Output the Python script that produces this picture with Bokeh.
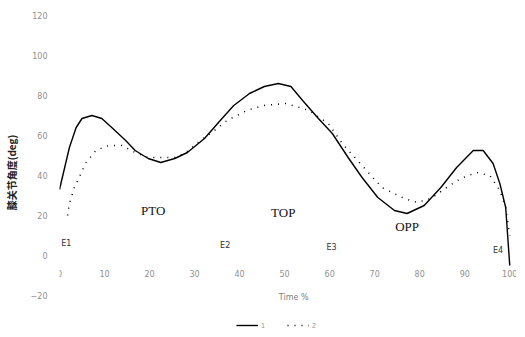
from bokeh.plotting import figure
from bokeh.models import Range1d, FixedTicker, Legend, LegendItem, ColumnDataSource
from bokeh.core.properties import value
from bokeh.embed import file_html
from bokeh.resources import INLINE

# ---- data ----
solid_x = [0, 2.2, 3.7, 5.0, 7.2, 9.4, 11.6, 14.7, 16.8, 19.7, 22.5, 25.6, 28.4, 32.2, 35.7,
           38.7, 42.2, 45.5, 48.6, 51.4, 54.0, 57.5, 60.6, 64.1, 67.2, 70.7, 74.4, 77.2, 81.0,
           84.7, 88.2, 91.9, 94.1, 96.3, 97.8, 99.1, 100.0]
solid_y = [33, 54, 64, 68.5, 70, 68.5, 64, 57.5, 52.5, 48.5, 46.5, 48.5, 51.5, 58.5, 67.5,
           75, 81, 84.5, 86, 84.5, 77.5, 68.5, 61, 49, 39, 29, 22.5, 21, 25,
           34, 44, 52.5, 52.5, 46, 36, 24, -5]

dot_x = [1.8, 2.2, 3.3, 5.9, 8.1, 10.9, 13.8, 16.8, 19.7, 22.5, 25.6, 27.8, 31.3, 34.4, 37.2,
         41.6, 45.3, 50.3, 55.4, 59.7, 62.8, 65.6, 67.8, 71.6, 76.6, 79.4, 82.5, 86.0, 89.1,
         92.6, 95.6, 97.8, 99.1, 100.0]
dot_y = [20, 26, 34, 46.5, 52.5, 55, 55, 51.5, 49, 49, 49, 51, 57.5, 62.5, 67.5,
         72.5, 75, 76, 72.5, 66, 56, 49, 43.5, 34, 28.5, 26.5, 28.5, 34, 38.5,
         41.5, 40, 32.5, 24, 10]

x_ticks = [0, 10, 20, 30, 40, 50, 60, 70, 80, 90, 100]
x_tick_labels = ["0", "10", "20", "30", "40", "50", "60", "70", "80", "90", "100"]
y_ticks = [-20, 0, 20, 40, 60, 80, 100, 120]
x_title = "Time %"
y_title = "膝关节角度(deg)"

phase_labels = ["PTO", "TOP", "OPP"]
phase_x = [20.8, 49.7, 77.2]
phase_y = [22.5, 21.5, 14.5]

event_labels = ["E1", "E2", "E3", "E4"]
event_x = [1.5, 36.8, 60.4, 97.4]
event_y = [6, 5, 4, 2.5]

legend_labels = ["1", "2"]

# ---- figure ----
p = figure(width=516, height=329, output_backend="svg", toolbar_location=None,
           x_range=Range1d(0, 101.5), y_range=Range1d(-37, 120),
           min_border_left=52, min_border_right=0, min_border_top=15, min_border_bottom=0)
p.outline_line_color = None
p.grid.grid_line_color = None
p.background_fill_color = "white"
p.border_fill_color = "white"
p.xaxis.visible = False

# y axis
p.yaxis.ticker = FixedTicker(ticks=y_ticks)
p.yaxis.axis_line_color = None
p.yaxis.major_tick_line_color = None
p.yaxis.minor_tick_line_color = None
p.yaxis.major_tick_out = 0
p.yaxis.major_label_standoff = 12
p.yaxis.major_label_text_font_size = "8px"
p.yaxis.major_label_text_color = "#909090"
p.yaxis.major_label_text_font = "DejaVu Sans"
p.yaxis.axis_label = y_title
p.yaxis.axis_label_text_font = "Noto Sans CJK SC"
p.yaxis.axis_label_text_font_size = "10px"
p.yaxis.axis_label_text_font_style = "bold"
p.yaxis.axis_label_text_color = "#222222"
p.yaxis.axis_label_standoff = 9

# x tick labels along the zero line, title under the frame's -20 line
tick_src = ColumnDataSource(dict(x=x_ticks, y=[-9] * len(x_ticks), t=x_tick_labels))
p.text(x="x", y="y", text="t", source=tick_src, text_align="center", text_baseline="middle",
       text_font=value("DejaVu Sans"), text_font_size="8px", text_color="#909090")
p.text(x=[52], y=[-21], text=[x_title], text_align="center", text_baseline="middle",
       text_font=value("DejaVu Sans"), text_font_size="8px", text_color="#808080")

# curves
r_solid = p.line(solid_x, solid_y, line_color="black", line_width=1.4)
r_dot = p.line(dot_x, dot_y, line_color="black", line_width=1.5, line_dash="1 6")

# phase labels
p.text(x=phase_x, y=phase_y, text=phase_labels, text_align="center", text_baseline="middle",
       text_font=value("Liberation Serif"), text_font_size="13px", text_color="#111111")

# event labels
p.text(x=event_x, y=event_y, text=event_labels, text_align="center", text_baseline="middle",
       text_font=value("DejaVu Sans"), text_font_size="8px", text_color="#333333")

legend = Legend(items=[LegendItem(label=legend_labels[0], renderers=[r_solid]),
                       LegendItem(label=legend_labels[1], renderers=[r_dot])],
                orientation="horizontal", location=(177, 0),
                label_text_font_size="7px", label_text_color="#909090",
                label_height=8, glyph_width=22, glyph_height=8, label_standoff=3, spacing=6,
                padding=0, margin=0, border_line_color=None, background_fill_alpha=0)
p.add_layout(legend)

open("out.html", "w").write(file_html(p, INLINE))
